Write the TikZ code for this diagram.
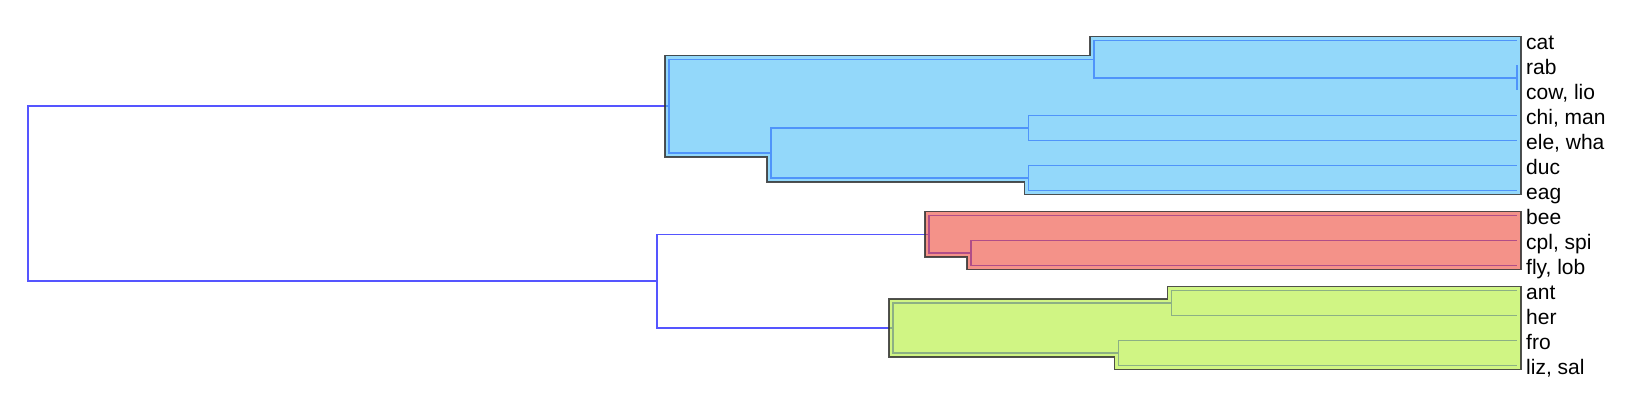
\documentclass[tikz,border=0pt]{standalone}
\usepackage{fontspec}
\setmainfont{Liberation Sans}
\definecolor{linkblue}{RGB}{85,85,255}
\definecolor{hullblue}{RGB}{75,190,247}
\definecolor{hullred}{RGB}{237,73,58}
\definecolor{hullgreen}{RGB}{177,238,50}
\tikzset{link/.style={draw=linkblue,line width=1.3pt},hull/.style={draw=black!80,draw opacity=.85,line width=1.3pt,fill opacity=.6},leaf/.style={anchor=base west,inner sep=0pt,font=\fontsize{21}{24}\selectfont}}
\begin{document}
\begin{tikzpicture}[x=1pt,y=-1pt]
\useasboundingbox (0,0) rectangle (1636,406);
\foreach \i/\t in {0/cat,1/rab,2/{cow, lio},3/{chi, man},4/{ele, wha},5/duc,6/eag,7/bee,8/{cpl, spi},9/{fly, lob},10/ant,11/her,12/fro,13/{liz, sal}}{\coordinate (e\i) at (1517,40.5+25*\i); \node[leaf] (l\i) at (1526,49.2+25*\i) {\t};}
\coordinate (rc) at (1517,78); \coordinate (n1) at (1094,59.25);
\coordinate (n2) at (1028.7,128); \coordinate (n3) at (1028.7,178);
\coordinate (n4) at (771,153); \coordinate (bl) at (669,106.1);
\coordinate (n5) at (971,253); \coordinate (rd) at (929,234.25);
\coordinate (n6) at (1171.7,303); \coordinate (n7) at (1118.3,353);
\coordinate (gr) at (893,328); \coordinate (rg) at (657,281.1);
\coordinate (root) at (28,193.6);
\foreach \p/\c in {rc/e1,rc/e2,n1/e0,n1/rc,n2/e3,n2/e4,n3/e5,n3/e6,n4/n2,n4/n3,bl/n1,bl/n4,n5/e8,n5/e9,rd/e7,rd/n5,n6/e10,n6/e11,n7/e12,n7/e13,gr/n6,gr/n7,rg/rd,rg/gr,root/bl,root/rg}{\draw[link] (\p) |- (\c);}
\draw[hull,fill=hullblue] (665,55.25) -- (1090,55.25) -- (1090,36.5) -- (1521,36.5) -- (1521,194.5) -- (1024.7,194.5) -- (1024.7,182) -- (767,182) -- (767,157) -- (665,157) -- cycle;
\draw[hull,fill=hullred] (925,211.5) -- (1521,211.5) -- (1521,269.5) -- (967,269.5) -- (967,257) -- (925,257) -- cycle;
\draw[hull,fill=hullgreen] (889,299) -- (1167.7,299) -- (1167.7,286.5) -- (1521,286.5) -- (1521,369.5) -- (1114.3,369.5) -- (1114.3,357) -- (889,357) -- cycle;
\end{tikzpicture}
\end{document}
